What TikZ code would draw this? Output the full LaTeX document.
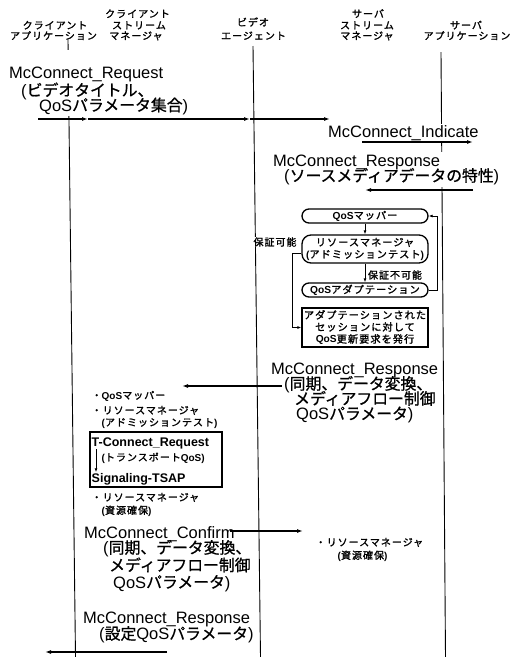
\documentclass[tikz,border=0pt]{standalone}
\usepackage{fontspec}
\usetikzlibrary{arrows.meta}
\setmainfont{Liberation Sans}
\newfontfamily\jpbig{Noto Sans CJK JP}[Scale=0.96,FakeBold=0.8]
\newfontfamily\jpsm{Noto Sans CJK JP}[FakeBold=1.5,LetterSpace=10]
\newcommand\J[1]{{\jpbig\mdseries #1}}
\newcommand\K[1]{{\jpsm\mdseries #1}}
\pgfdeclarelayer{lines}
\pgfdeclarelayer{bgw}
\pgfsetlayers{lines,bgw,main}
\begin{document}
\begin{tikzpicture}[x=1pt,y=-1pt,
 life/.style={line width=0.9pt},
 msg/.style={line width=1.2pt,-{Latex[length=6pt,width=4pt]}},
 farr/.style={line width=1pt,-{Latex[length=4pt,width=3pt]}},
 big/.style={font=\fontsize{16.5}{16}\selectfont,anchor=base west,inner xsep=1pt,inner ysep=0pt},
 hd/.style={font=\fontsize{10}{11}\selectfont,anchor=base,inner sep=0.5pt},
 note/.style={font=\bfseries\fontsize{10}{11}\selectfont,anchor=base west,inner sep=0.5pt},
 lat/.style={font=\bfseries\fontsize{12.5}{14}\selectfont,anchor=base west,inner sep=0.5pt},
 fbox/.style={draw,line width=1.3pt,minimum width=126pt,inner sep=0pt,align=center,fill=white,font=\bfseries\fontsize{10.2}{12}\selectfont},
 pill/.style={fbox,rounded corners=7pt,minimum height=14pt},
 flab/.style={font=\bfseries\fontsize{10}{12}\selectfont,inner sep=0.8pt}
]
\useasboundingbox (0,0) rectangle (513,657);
\begin{pgfonlayer}{lines}
\fill[white] (0,0) rectangle (513,657);
% lifelines
\coordinate (caT) at (68,40);  \coordinate (caB) at (75.5,657);
\coordinate (vaT) at (253,46); \coordinate (vaB) at (260.5,657);
\coordinate (saT) at (441,52); \coordinate (saB) at (445.5,657);
\draw[life] (caT) -- (caB);
\draw[life] (vaT) -- (vaB);
\draw[life] (saT) -- (saB);
\end{pgfonlayer}

% headers
\node[hd] (hca1) at (55,29)     {\K{クライアント}};
\node[hd] (hca2) at (53.5,39.5) {\K{アプリケーション}};
\node[hd] (hcs1) at (137.5,17.5){\K{クライアント}};
\node[hd] (hcs2) at (139,29)    {\K{ストリーム}};
\node[hd] (hcs3) at (136,39.5)  {\K{マネージャ}};
\node[hd] (hva1) at (253,26)    {\K{ビデオ}};
\node[hd] (hva2) at (253.5,39.5){\K{エージェント}};
\node[hd] (hss1) at (368,17.5)  {\K{サーバ}};
\node[hd] (hss2) at (367,29)    {\K{ストリーム}};
\node[hd] (hss3) at (367,39.5)  {\K{マネージャ}};
\node[hd] (hsa1) at (466,29)    {\K{サーバ}};
\node[hd] (hsa2) at (467,39.5)  {\K{アプリケーション}};

% McConnect_Request
\node[big] (rq1) at (8,78)   {McConnect\_Request};
\node[big] (rq2) at (20,96)  {(\J{ビデオタイトル、}};
\node[big] (rq3) at (38,111) {QoS\J{パラメータ集合})};
\coordinate (rqA) at (38,119);
\coordinate (rqB) at (88,119);
\coordinate (rqC) at (250,119);
\coordinate (rqD) at (330,119);
\draw[msg] (rqA) -- (rqB);
\draw[msg] (rqB) -- (rqC);
\draw[msg] (rqC) -- (rqD);

% McConnect_Indicate
\node[big,fill=white,inner ysep=1.5pt] (ind) at (327,137) {McConnect\_Indicate};
\coordinate (inA) at (362,142); \coordinate (inB) at (473,142);
\draw[msg] (inA) -- (inB);

% McConnect_Response 1
\node[big] (rs1) at (272,166) {McConnect\_Response};
\node[big] (rs2) at (283,181.5) {(\J{ソースメディアデータの特性})};
\coordinate (rsA) at (473,190); \coordinate (rsB) at (365,190);
\draw[msg] (rsA) -- (rsB);

% white backgrounds behind multi-line labels that cross lifelines
\begin{pgfonlayer}{bgw}
\fill[white] (rq1.north west) ++(0,-16) rectangle ([yshift=-1.5pt]rq3.south east);
\fill[white] ([yshift=2pt]rs1.north west) rectangle ([yshift=-1.5pt]rs2.south east);
\end{pgfonlayer}

% flowchart at server stream manager
\node[pill] (map) at (365,216) {QoS\K{マッパー}};
\node[fbox,rounded corners=9pt,minimum height=28pt] (rm) at (365,249)
  {\K{リソースマネージャ}\\(\K{アドミッションテスト})};
\node[pill] (adp) at (365,290) {QoS\K{アダプテーション}};
\node[fbox,minimum height=39pt] (upd) at (365,327.5)
  {\K{アダプテーションされた}\\\K{セッションに対して}\\QoS\K{更新要求を発行}};
\draw[farr] (map) -- (rm);
\draw[farr] (rm) -- (adp);
\node[flab,anchor=west] (ng) at (367,275) {\K{保証不可能}};
\node[flab,fill=white] (ok) at (275,242) {\K{保証可能}};
\draw[farr] ([yshift=-4pt]rm.west) -- ++(-9,0) |- (upd.west);
\draw[farr] (adp.east) -- ++(9,0) |- (map.east);

% McConnect_Response 2
\node[big] (rt1) at (270,374) {McConnect\_Response};
\node[big] (rt2) at (283,389.5) {(\J{同期、データ変換、}};
\node[big] (rt3) at (293,404.5) {\J{メディアフロー制御}};
\node[big] (rt4) at (295,419.5) {QoS\J{パラメータ})};
\coordinate (rtA) at (282,386); \coordinate (rtB) at (182,386);
\draw[msg] (rtA) -- (rtB);

% client stream manager notes
\node[note] (n1) at (91,399) {\K{・}QoS\K{マッパー}};
\node[note] (n2) at (91,414) {\K{・リソースマネージャ}};
\node[note] (n3) at (101,426) {(\K{アドミッションテスト})};
\node[draw,line width=1.3pt,minimum width=132pt,minimum height=55pt,inner sep=0pt] (tb) at (156,459.5) {};
\node[lat] (tcr) at (91,446) {T-Connect\_Request};
\node[note] (tq) at (101,461) {(\K{トランスポート}QoS)};
\node[lat] (sig) at (91,482) {Signaling-TSAP};
\draw[farr] ([xshift=5pt]tcr.south west) -- ([xshift=5pt]sig.north west);
\node[note] (n4) at (91,501) {\K{・リソースマネージャ}};
\node[note] (n5) at (101,514) {(\K{資源確保})};

% McConnect_Confirm
\node[big] (cf1) at (83,538)  {McConnect\_Confirm};
\node[big] (cf2) at (102,553.5) {(\J{同期、データ変換、}};
\node[big] (cf3) at (108,571) {\J{メディアフロー制御}};
\node[big] (cf4) at (112,588) {QoS\J{パラメータ})};
\coordinate (cfA) at (230,531); \coordinate (cfB) at (303,531);
\draw[msg] (cfA) -- (cfB);
\node[note] (rn1) at (315,546) {\K{・リソースマネージャ}};
\node[note] (rn2) at (337,559) {(\K{資源確保})};

% McConnect_Response 3
\node[big] (rz1) at (82,623) {McConnect\_Response};
\node[big] (rz2) at (98,639.5) {(\J{設定}QoS\J{パラメータ})};
\coordinate (rzA) at (167,652); \coordinate (rzB) at (45,652);
\draw[msg] (rzA) -- (rzB);
\end{tikzpicture}
\end{document}
